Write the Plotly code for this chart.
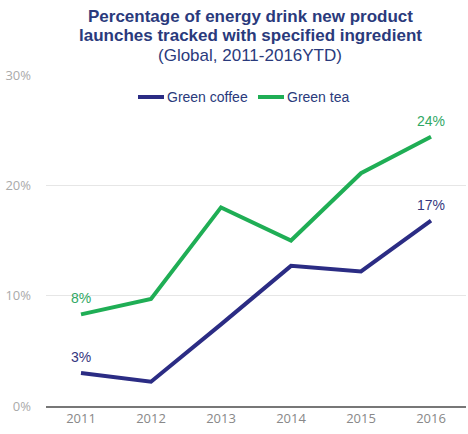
import plotly.graph_objects as go

years = ["2011", "2012", "2013", "2014", "2015", "2016"]
green_coffee = [3.0, 2.2, 7.4, 12.7, 12.2, 16.8]
green_tea = [8.3, 9.7, 18.0, 15.0, 21.1, 24.4]
coffee_labels = ["3%", "", "", "", "", "17%"]
tea_labels = ["8%", "", "", "", "", "24%"]
y_ticks = [0, 10, 20, 30]
y_tick_text = ["0%", "10%", "20%", "30%"]
title_lines = ["<b>Percentage of energy drink new product</b>",
               "<b>launches tracked with specified ingredient</b>",
               "(Global, 2011-2016YTD)"]
series_names = ["Green coffee", "Green tea"]

navy = "#2b2c84"
green = "#1fae55"
title_color = "#2a3a7c"

L, R, T, B, W, H = 46, 2, 75, 28, 468, 434
PW, PH = W - L - R, H - T - B


def px(x):
    return (x - L) / PW


def py(y):
    return (H - B - y) / PH


fig = go.Figure()
for name, vals, labels, col, lcol in [
        (series_names[0], green_coffee, coffee_labels, navy, "#35377e"),
        (series_names[1], green_tea, tea_labels, green, "#2fa864")]:
    fig.add_trace(go.Scatter(x=years, y=vals, name=name, mode="lines",
                             line=dict(color=col, width=4), showlegend=False,
                             cliponaxis=False))
    for i, (v, lab) in enumerate(zip(vals, labels)):
        if lab:
            fig.add_annotation(x=i, y=v, xref="x", yref="y", text=lab, showarrow=False,
                               xanchor="center", yanchor="middle", yshift=16,
                               font=dict(family="Liberation Sans", size=14, color=lcol))

title_y = [16, 36, 55]
for line, ty in zip(title_lines, title_y):
    fig.add_annotation(text=line, xref="paper", yref="paper",
                       x=px(250), y=py(ty), xanchor="center", yanchor="middle",
                       showarrow=False,
                       font=dict(family="Liberation Sans", size=17, color=title_color))

# legend (custom, to match short key lines)
legend_items = [(series_names[0], navy, 138, 164), (series_names[1], green, 258, 284)]
for name, col, x0, x1 in legend_items:
    fig.add_shape(type="line", xref="paper", yref="paper",
                  x0=px(x0), x1=px(x1), y0=py(97), y1=py(97),
                  line=dict(color=col, width=4))
    fig.add_annotation(text=name, xref="paper", yref="paper", x=px(x1 + 1), y=py(97),
                       xanchor="left", yanchor="middle", showarrow=False,
                       font=dict(family="Liberation Sans", size=14, color=title_color))

fig.update_layout(
    width=W, height=H,
    margin=dict(l=L, r=R, t=T, b=B, autoexpand=False),
    paper_bgcolor="white", plot_bgcolor="white",
    showlegend=False,
    xaxis=dict(type="category", range=[-0.5, 5.5], showgrid=False, showline=True,
               linecolor="#777777", linewidth=1.5, ticks="", automargin=False,
               tickfont=dict(family="Open Sans", size=13, color="#888888")),
    yaxis=dict(range=[0, 30], tickvals=y_ticks, ticktext=y_tick_text,
               showgrid=True, gridcolor="#e6e6e6", gridwidth=1, zeroline=False,
               showline=False, ticks="", ticklabelstandoff=14, automargin=False,
               tickfont=dict(family="Open Sans", size=13, color="#aaaaaa")),
)

fig.write_html("out.html", config={"displayModeBar": False},
               post_script="document.body.style.margin='0';document.body.style.overflow='hidden';")
